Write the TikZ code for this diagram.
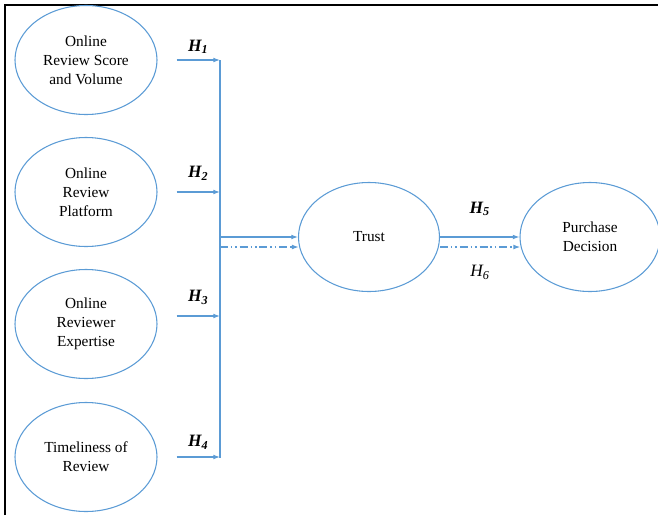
\documentclass[tikz,border=0pt]{standalone}
\usepackage{fontspec}
\setmainfont{Liberation Serif}
\usetikzlibrary{arrows.meta,shapes.geometric}
\definecolor{lineblue}{RGB}{91,155,213}

\begin{document}
\begin{tikzpicture}[x=0.75pt, y=-0.75pt, font=\fontsize{11.5}{14.3}\selectfont,
  construct/.style={draw=lineblue, line width=0.8pt, ellipse, align=center,
    minimum width=106.5pt, minimum height=81.75pt, inner sep=0pt},
  arr/.style={draw=lineblue, line width=0.8pt, -{Latex[length=5pt,width=3.6pt]}},
  dashdotarr/.style={arr, dash pattern=on 6pt off 2.2pt on 1.1pt off 2.2pt on 1.1pt off 2.2pt},
  hyp/.style={font=\fontsize{13}{14}\selectfont}]
  \useasboundingbox (0,0) rectangle (658,515);
  \draw[line width=1.5pt] (5,515) -- (5,4.5) -- (658,4.5);

  \node[construct] (score) at (86,60) {Online\\Review Score\\and Volume};
  \node[construct] (platform) at (86,192) {Online\\Review\\Platform};
  \node[construct] (expert) at (86,324) {Online\\Reviewer\\Expertise};
  \node[construct] (time) at (86,457) {Timeliness of\\Review};
  \node[construct, minimum width=105.75pt] (trust) at (369,237) {Trust};
  \node[construct, minimum width=105pt] (purchase) at (590,237) {Purchase\\Decision};

  \coordinate (bustop) at (220,60);
  \coordinate (busbot) at (220,458);
  \draw[draw=lineblue, line width=0.8pt] (bustop) -- (busbot);

  % inputs into the bus
  \draw[arr] ([xshift=14.25pt]score.east) -- node[hyp, above=1pt] {\textbf{\textit{H\textsubscript{1}}}} (score.east -| bustop);
  \draw[arr] ([xshift=14.25pt]platform.east) -- node[hyp, above=5pt] {\textbf{\textit{H\textsubscript{2}}}} (platform.east -| bustop);
  \draw[arr] ([xshift=14.25pt,yshift=6pt]expert.east) -- node[hyp, above=5pt] {\textbf{\textit{H\textsubscript{3}}}} ([yshift=6pt]expert.east -| bustop);
  \draw[arr] ([xshift=14.25pt]time.east) -- node[hyp, above=2pt] {\textbf{\textit{H\textsubscript{4}}}} (time.east -| bustop);

  % bus to trust, trust to purchase
  \draw[arr] (trust.west -| bustop) -- (trust.west);
  \draw[dashdotarr] ([yshift=-7.5pt]trust.west -| bustop) -- ([yshift=-7.5pt,xshift=0.5pt]trust.west);
  \draw[arr] (trust.east) -- node[hyp, above=12pt] {\textbf{\textit{H\textsubscript{5}}}} (purchase.west);
  \draw[dashdotarr] ([yshift=-7.5pt]trust.east) -- node[hyp, below=10pt] {\textit{H\textsubscript{6}}} ([yshift=-7.5pt,xshift=0.5pt]purchase.west);
\end{tikzpicture}
\end{document}
